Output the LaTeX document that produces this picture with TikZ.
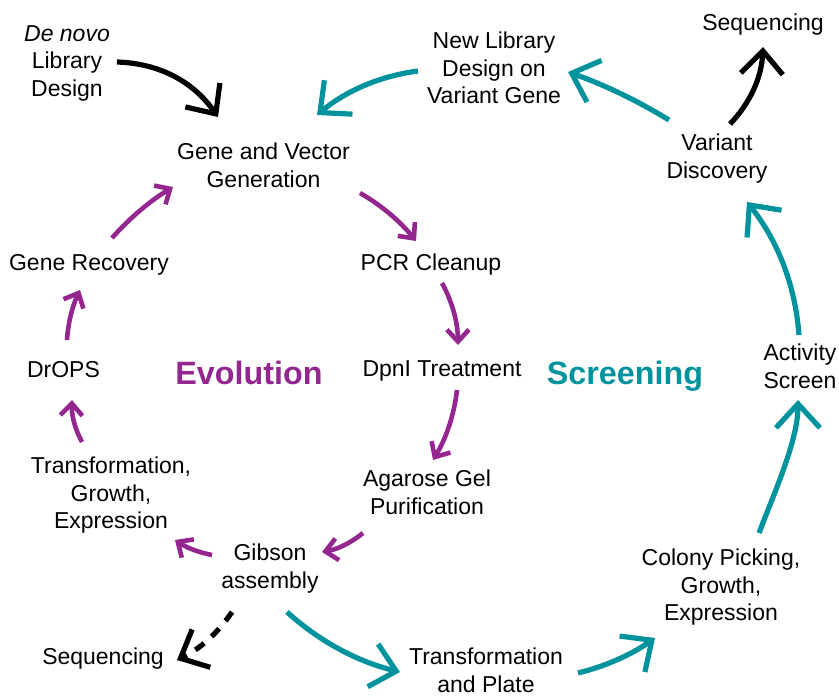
\documentclass[tikz,border=0pt]{standalone}
\usepackage{fontspec}
\setmainfont{Liberation Sans}
\usetikzlibrary{arrows.meta}
\definecolor{evo}{RGB}{147,39,143}
\definecolor{scr}{RGB}{0,147,157}
\tikzset{
  lbl/.style={font=\fontsize{23}{27.7}\selectfont, align=center, inner sep=0pt, text=black,
    execute at begin node=\strut, execute at end node=\strut},
  big/.style={font=\fontsize{32.3}{38}\selectfont\bfseries, inner sep=0pt, text depth=0pt},
  parrow/.style={draw=evo, line width=4.6pt, -{Straight Barb[length=12pt,width=22pt]}},
  tarrow/.style={draw=scr, line width=5.2pt, -{Straight Barb[length=24pt,width=44pt]}},
  karrow/.style={draw=black, line width=5.2pt, -{Straight Barb[length=23pt,width=42pt]}},
}
\begin{document}
\begin{tikzpicture}[x=1pt,y=-1pt]
\useasboundingbox (0,0) rectangle (839,696);
% nodes
\node[lbl] (denovo) at (67,65) {\textit{De novo}\\Library\\Design};
\node[lbl] (gv) at (263.5,169) {Gene and Vector\\Generation};
\node[lbl] (newlib) at (494,72) {New Library\\Design on\\Variant Gene};
\node[lbl] (seqtop) at (763,25) {Sequencing};
\node[lbl] (vd) at (717,160) {Variant\\Discovery};
\node[lbl] (generec) at (89,265) {Gene Recovery};
\node[lbl] (pcr) at (431,265) {PCR Cleanup};
\node[lbl] (drops) at (63.5,372) {DrOPS};
\node[big, text=evo] (evol) at (249,373) {Evolution};
\node[lbl] (dpni) at (442,371) {DpnI Treatment};
\node[big, text=scr] (scrn) at (625,373) {Screening};
\node[lbl] (act) at (800,370.5) {Activity\\Screen};
\node[lbl] (tge) at (111,497) {Transformation,\\Growth,\\Expression};
\node[lbl] (aga) at (427,496) {Agarose Gel\\Purification};
\node[lbl] (gib) at (270,570.5) {Gibson\\assembly};
\node[lbl] (col) at (721,589) {Colony Picking,\\Growth,\\Expression};
\node[lbl] (seqbot) at (103,659) {Sequencing};
\node[lbl] (tp) at (486,674) {Transformation\\and Plate};
% black arrows
\draw[karrow] ([shift={(50,-3)}]denovo.center) .. controls +(42.9,1.4) and +(-24.5,-35.2) .. ([shift={(-45.5,-52)}]gv.center);
\draw[karrow] ([shift={(13,-36)}]vd.center) .. controls +(20.7,-21.6) and +(-1.3,29.8) .. ([shift={(0,22)}]seqtop.center);
\draw[karrow, dash pattern=on 11pt off 10pt] ([shift={(-38,41.5)}]gib.center) .. controls +(-14.3,21.3) and +(22.3,-10.7) .. ([shift={(74,1)}]seqbot.center);
% teal arrows
\draw[tarrow] ([shift={(-76,-1)}]newlib.center) .. controls +(-38,5) and +(29.4,-24.4) .. ([shift={(53.5,-54)}]gv.center);
\draw[tarrow] ([shift={(-48,-40)}]vd.center) .. controls +(-32,-19.6) and +(35.4,12.4) .. ([shift={(74,0)}]newlib.center);
\draw[tarrow] ([shift={(-1,-35.5)}]act.center) .. controls +(-3.7,-49.6) and +(30.9,39) .. ([shift={(30,42)}]vd.center);
\draw[tarrow] ([shift={(38,-56)}]col.center) .. controls +(16,-42) and +(0,40) .. ([shift={(-2,29.5)}]act.center);
\draw[tarrow] ([shift={(92,-1)}]tp.center) .. controls +(28,-6.9) and +(-23.4,16.5) .. ([shift={(-66,49)}]col.center);
\draw[tarrow] ([shift={(17,41.5)}]gib.center) .. controls +(32.6,29.5) and +(-42.8,-10.5) .. ([shift={(-86,-2)}]tp.center);
% purple arrows
\draw[parrow] ([shift={(96.5,24)}]gv.center) .. controls +(21.7,12.5) and +(-15.7,-19.5) .. ([shift={(-15,-24)}]pcr.center);
\draw[parrow] ([shift={(11,18)}]pcr.center) .. controls +(10.5,19.4) and +(-0.1,-22) .. ([shift={(16,-26)}]dpni.center);
\draw[parrow] ([shift={(15,19)}]dpni.center) .. controls +(-2.9,25) and +(13.1,-21.6) .. ([shift={(6,-36)}]aga.center);
\draw[parrow] ([shift={(-64,37)}]aga.center) .. controls +(-12,9.9) and +(15.4,-2.7) .. ([shift={(52,-18.5)}]gib.center);
\draw[parrow] ([shift={(-58,-15.5)}]gib.center) .. controls +(-13.3,-2.5) and +(11.3,7.5) .. ([shift={(64,43)}]tge.center);
\draw[parrow] ([shift={(-29,-55)}]tge.center) .. controls +(-7.2,-13.2) and +(-0.6,14.8) .. ([shift={(8.5,28)}]drops.center);
\draw[parrow] ([shift={(3.5,-32)}]drops.center) .. controls +(1.1,-17.5) and +(-7.5,15.9) .. ([shift={(-9,25)}]generec.center);
\draw[parrow] ([shift={(23,-27)}]generec.center) .. controls +(17.7,-20.1) and +(-22.9,13.9) .. ([shift={(-90.5,18)}]gv.center);
\end{tikzpicture}
\end{document}
